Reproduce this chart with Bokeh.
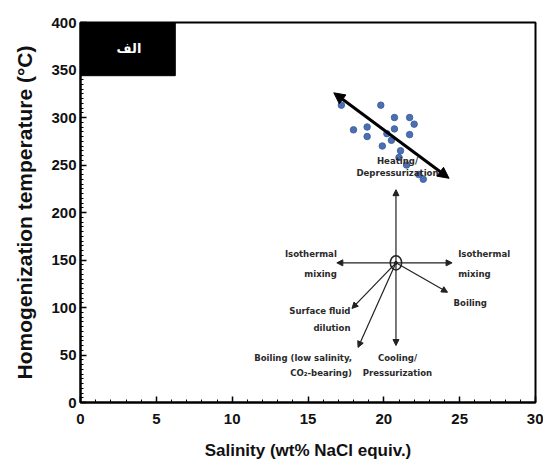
from bokeh.plotting import figure
from bokeh.models import (Arrow, NormalHead, Range1d, ColumnDataSource, FixedTicker, Label)
from bokeh.embed import file_html
from bokeh.resources import INLINE
from bokeh.core.properties import value

# --- data ---
sal = [17.2, 19.8, 20.7, 21.7, 22.0, 18.0, 18.9, 18.9, 20.7, 20.5, 21.7, 21.1, 21.5, 22.3, 22.6, 19.9, 20.2, 21.0]
th = [313, 313, 300, 300, 293, 287, 290, 280, 288, 276, 282, 265, 250, 240, 235, 270, 283, 258]

trend_start = (16.7, 326)
trend_end = (24.3, 236)

center = (20.8, 147)
vec_ends_x = [20.8, 16.9, 24.5, 24.2, 20.8, 17.9, 18.3]
vec_ends_y = [224, 147, 147, 116, 60, 99, 58]

x_ticks = [0, 5, 10, 15, 20, 25, 30]
y_ticks = [0, 50, 100, 150, 200, 250, 300, 350, 400]

labels_text = ["Heating/", "Depressurization",
               "Isothermal", "mixing",
               "Isothermal", "mixing",
               "Boiling",
               "Surface fluid", "dilution",
               "Boiling (low salinity,", "CO\u2082-bearing)",
               "Cooling/", "Pressurization"]
labels_x = [20.9, 20.9, 16.9, 16.9, 24.9, 24.9, 24.6, 17.8, 17.8, 17.9, 17.9, 20.9, 20.9]
labels_y = [255, 242, 157, 136, 157, 136, 105, 97, 79, 47, 32, 47, 32]
labels_align = ["center", "center", "right", "right", "left", "left", "left",
                "right", "right", "right", "right", "center", "center"]

panel_label = "الف"

p = figure(width=543, height=472, output_backend="svg", toolbar_location=None,
           x_range=Range1d(0, 30), y_range=Range1d(0, 400),
           min_border_left=80, min_border_right=8, min_border_top=22, min_border_bottom=70)
p.background_fill_color = "white"
p.border_fill_color = "white"
p.grid.visible = False
p.outline_line_color = "black"
p.outline_line_width = 2

for ax in (p.xaxis[0], p.yaxis[0]):
    ax.axis_line_width = 2
    ax.axis_line_color = "black"
    ax.major_tick_in = 6
    ax.major_tick_out = 0
    ax.minor_tick_in = 3
    ax.minor_tick_out = 0
    ax.major_tick_line_width = 1.5
    ax.major_label_text_font = "Liberation Sans"
    ax.major_label_text_font_style = "bold"
    ax.major_label_text_font_size = "15px"
    ax.major_label_text_color = "#111111"
    ax.axis_label_text_font = "Liberation Sans"
    ax.axis_label_text_font_style = "bold"
    ax.axis_label_text_color = "#111111"

p.xaxis[0].ticker = FixedTicker(ticks=x_ticks, minor_ticks=list(range(0, 31)))
p.yaxis[0].ticker = FixedTicker(ticks=y_ticks, minor_ticks=list(range(0, 401, 5)))
p.xaxis[0].major_label_standoff = 11
p.yaxis[0].major_label_standoff = 4
p.xaxis[0].axis_label = "Salinity (wt% NaCl equiv.)"
p.yaxis[0].axis_label = "Homogenization temperature (°C)"
p.xaxis[0].axis_label_text_font_size = "17px"
p.yaxis[0].axis_label_text_font_size = "21px"
p.xaxis[0].axis_label_standoff = 14
p.yaxis[0].axis_label_standoff = 12

# panel label box
p.quad(left=[0], right=[6.25], top=[400], bottom=[344], fill_color="black", line_color="black")
p.add_layout(Label(x=3.2, y=373, text=panel_label, text_color="white", text_align="center",
                   text_baseline="middle", text_font="DejaVu Sans", text_font_style="bold",
                   text_font_size="13px"))

# scatter
p.scatter(sal, th, size=6.5, color="#3b5fa6", alpha=0.9)

# trend double arrow
p.add_layout(Arrow(x_start=trend_start[0], y_start=trend_start[1], x_end=trend_end[0], y_end=trend_end[1],
                   line_width=3, line_color="black",
                   start=NormalHead(size=11, fill_color="black", line_color="black"),
                   end=NormalHead(size=11, fill_color="black", line_color="black")))

# vector arrows from center
for ex, ey in zip(vec_ends_x, vec_ends_y):
    p.add_layout(Arrow(x_start=center[0], y_start=center[1], x_end=ex, y_end=ey,
                       line_width=1.2, line_color="#222222",
                       end=NormalHead(size=6, fill_color="#222222", line_color="#222222")))

# center circle
p.ellipse(x=[center[0]], y=[center[1]], width=0.75, height=15, fill_color="white",
          line_color="#222222", line_width=1.5)
p.scatter([center[0]], [center[1]], size=3, color="#222222")

src = ColumnDataSource(dict(x=labels_x, y=labels_y, t=labels_text, a=labels_align))
p.text(x="x", y="y", text="t", text_align="a", source=src, text_baseline="middle",
       text_font=value("DejaVu Sans Condensed"), text_font_size="9.5px", text_font_style="bold",
       text_color="#2a2a2a")

open("out.html", "w").write(file_html(p, INLINE))
